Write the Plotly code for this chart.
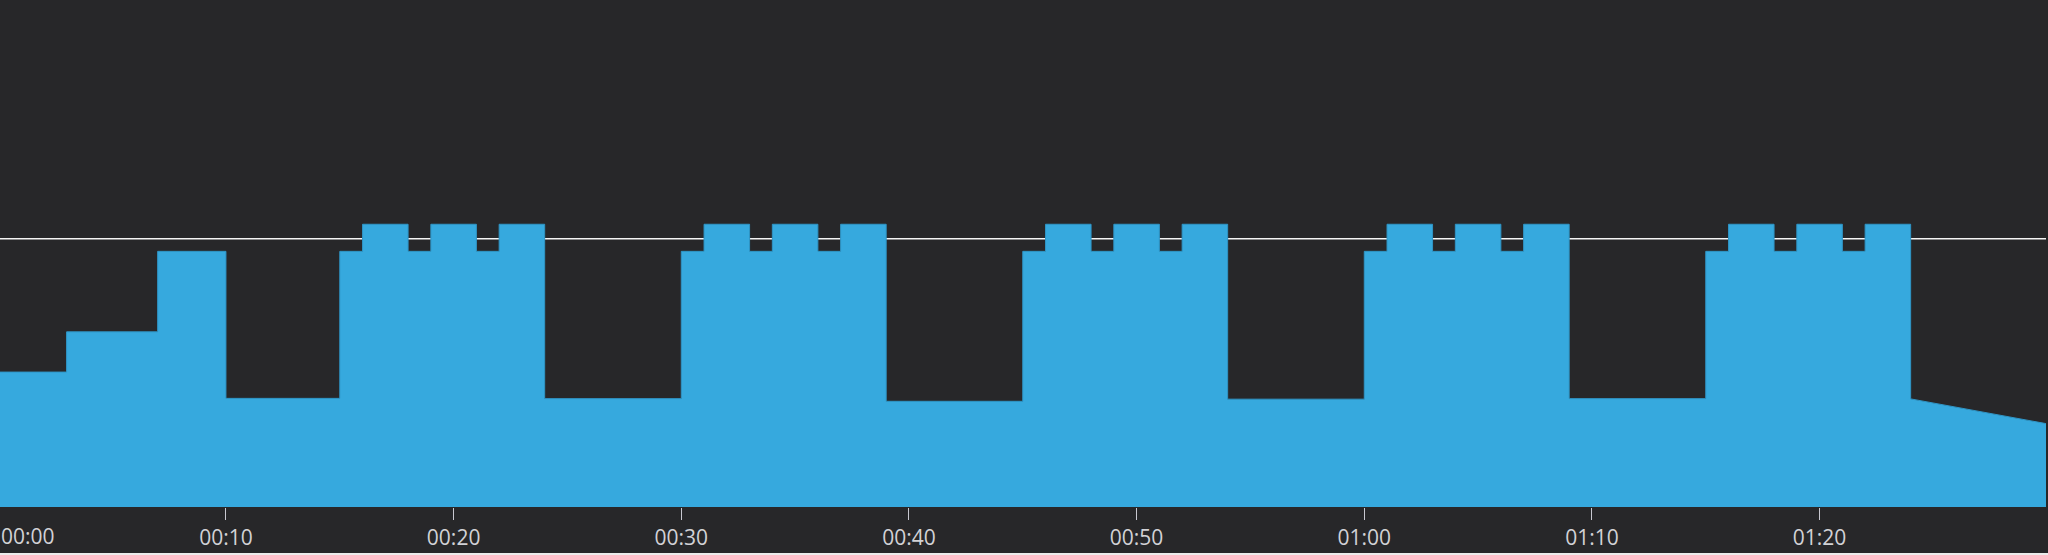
import plotly.graph_objects as go

# ---- data (seconds, value units) ----
step_times = [0, 3, 7, 10, 15, 16, 18, 19, 21, 22, 24,
              30, 31, 33, 34, 36, 37, 39,
              45, 46, 48, 49, 51, 52, 54,
              60, 61, 63, 64, 66, 67, 69,
              75, 76, 78, 79, 81, 82, 84]
step_values = [50.3, 65.3, 95.3, 40.5, 95.3, 105.4, 95.3, 105.4, 95.3, 105.4, 40.4,
               95.3, 105.4, 95.3, 105.4, 95.3, 105.4, 39.4,
               95.3, 105.4, 95.3, 105.4, 95.3, 105.4, 40.2,
               95.3, 105.4, 95.3, 105.4, 95.3, 105.4, 40.4,
               95.3, 105.4, 95.3, 105.4, 95.3, 105.4, 40.3]
tail_times = [90]
tail_values = [31.0]
threshold = 100
tick_secs = [0, 10, 20, 30, 40, 50, 60, 70, 80]
tick_labels = ["00:00", "00:10", "00:20", "00:30", "00:40", "00:50", "01:00", "01:10", "01:20"]

BG = "#272729"
BLUE = "#36a9de"
EDGE = "#2f95c6"
TXT = "#d2d2d6"
FONT = dict(family="Open Sans", size=21, color=TXT)

# expand step changes into a single path (held value until next change), then linear tail
xs, ys = [], []
for i, (t, v) in enumerate(zip(step_times, step_values)):
    if i > 0:
        xs.append(t)
        ys.append(step_values[i - 1])
    xs.append(t)
    ys.append(v)
xs += tail_times
ys += tail_values

fig = go.Figure()
fig.add_trace(go.Scatter(x=xs, y=ys, mode="lines", line_shape="linear",
                         fill="tozeroy", fillcolor=BLUE, line=dict(color=EDGE, width=1),
                         hoverinfo="skip", showlegend=False))

fig.add_shape(type="line", xref="paper", x0=0, x1=1, yref="y", y0=threshold, y1=threshold,
              line=dict(color="#f4f4f4", width=1.6), layer="below")

fig.add_annotation(x=0, xref="paper", xanchor="left", y=0, yref="paper", yanchor="top",
                   yshift=-14, text=tick_labels[0], showarrow=False, font=FONT, borderpad=0)

fig.update_xaxes(range=[0.075, 89.945], tickmode="array", tickvals=tick_secs[1:],
                 ticktext=tick_labels[1:], ticks="outside", ticklen=12, tickwidth=1.3,
                 tickcolor="#c8c8d0", showgrid=False, zeroline=False, showline=False,
                 tickfont=FONT, fixedrange=True)
fig.update_yaxes(range=[0, 189], visible=False, showgrid=False, zeroline=False, fixedrange=True)

fig.update_layout(width=2048, height=553, margin=dict(l=0, r=2, t=0, b=46, pad=0),
                  paper_bgcolor=BG, plot_bgcolor=BG, showlegend=False)

fig.write_html("out.html", config={"displayModeBar": False},
               post_script="document.body.style.margin='0';document.body.style.background='#ececec';")
